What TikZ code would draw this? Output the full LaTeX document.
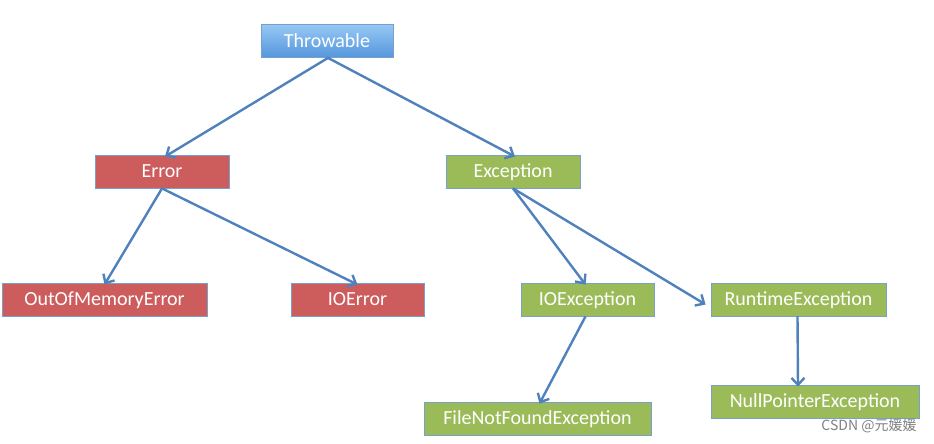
\documentclass[tikz,border=0pt]{standalone}
\usepackage{fontspec}
\setmainfont{Carlito}
\newfontfamily\cjk{Noto Sans CJK SC}
\usetikzlibrary{arrows.meta}
\definecolor{arrowblue}{RGB}{79,129,189}
\definecolor{boxred}{RGB}{205,92,92}
\definecolor{boxgreen}{RGB}{155,187,89}
\definecolor{blueTop}{RGB}{150,200,245}
\definecolor{blueBot}{RGB}{85,150,220}
\definecolor{edgeblue}{RGB}{120,160,205}
\tikzset{
  base/.style={draw=edgeblue, line width=0.8pt, text=white, font=\fontsize{20}{22}\selectfont,
    minimum height=33pt, inner sep=0pt, text depth=1pt, anchor=center},
  bluebox/.style={base, top color=blueTop, bottom color=blueBot},
  redbox/.style={base, fill=boxred},
  greenbox/.style={base, fill=boxgreen},
  arr/.style={draw=arrowblue, line width=2.4pt, -{Straight Barb[length=7pt,width=13pt]}},
}
\begin{document}
\begin{tikzpicture}[x=1pt,y=-1pt]
\useasboundingbox (0,0) rectangle (934,444);
\node[bluebox, minimum width=132pt] (thr) at (327,41) {Throwable};
\node[redbox, minimum width=134pt] (err) at (162,171.5) {Error};
\node[greenbox, minimum width=134pt] (exc) at (513,171.5) {Exception};
\node[redbox, minimum width=205pt] (oom) at (104.5,299.5) {OutOfMemoryError};
\node[redbox, minimum width=133pt] (ioe) at (357.5,299.5) {IOError};
\node[greenbox, minimum width=133pt] (ioex) at (587.5,299.5) {IOException};
\node[greenbox, minimum width=175pt] (rte) at (798.5,299.5) {RuntimeException};
\node[greenbox, minimum width=227pt] (fnf) at (537.5,418.5) {FileNotFoundException};
\node[greenbox, minimum width=208pt] (npe) at (815,401.5) {NullPointerException};
\node[text=gray, font=\cjk\fontsize{14}{16}\selectfont, anchor=center] (wm) at (869,426) {CSDN @元媛媛};
\coordinate (thrb) at ([xshift=1pt]thr.south);
\draw[arr] (thrb) -- ([xshift=3pt,yshift=-2pt]err.north);
\draw[arr] (thrb) -- ([xshift=2pt,yshift=-2pt]exc.north);
\coordinate (errb) at (err.south);
\draw[arr] (errb) -- ([yshift=-2pt]oom.north);
\draw[arr] (errb) -- ([yshift=-2pt]ioe.north);
\coordinate (excb) at (exc.south);
\draw[arr] (excb) -- ([xshift=-2pt,yshift=-2pt]ioex.north);
\draw[arr] (excb) -- ([xshift=-5pt,yshift=-5pt]rte.west);
\draw[arr] ([xshift=-2pt]ioex.south) -- ([xshift=2pt,yshift=-2pt]fnf.north);
\draw[arr] ([xshift=-1pt]rte.south) -- ([xshift=-17pt,yshift=-2pt]npe.north);
\end{tikzpicture}
\end{document}
